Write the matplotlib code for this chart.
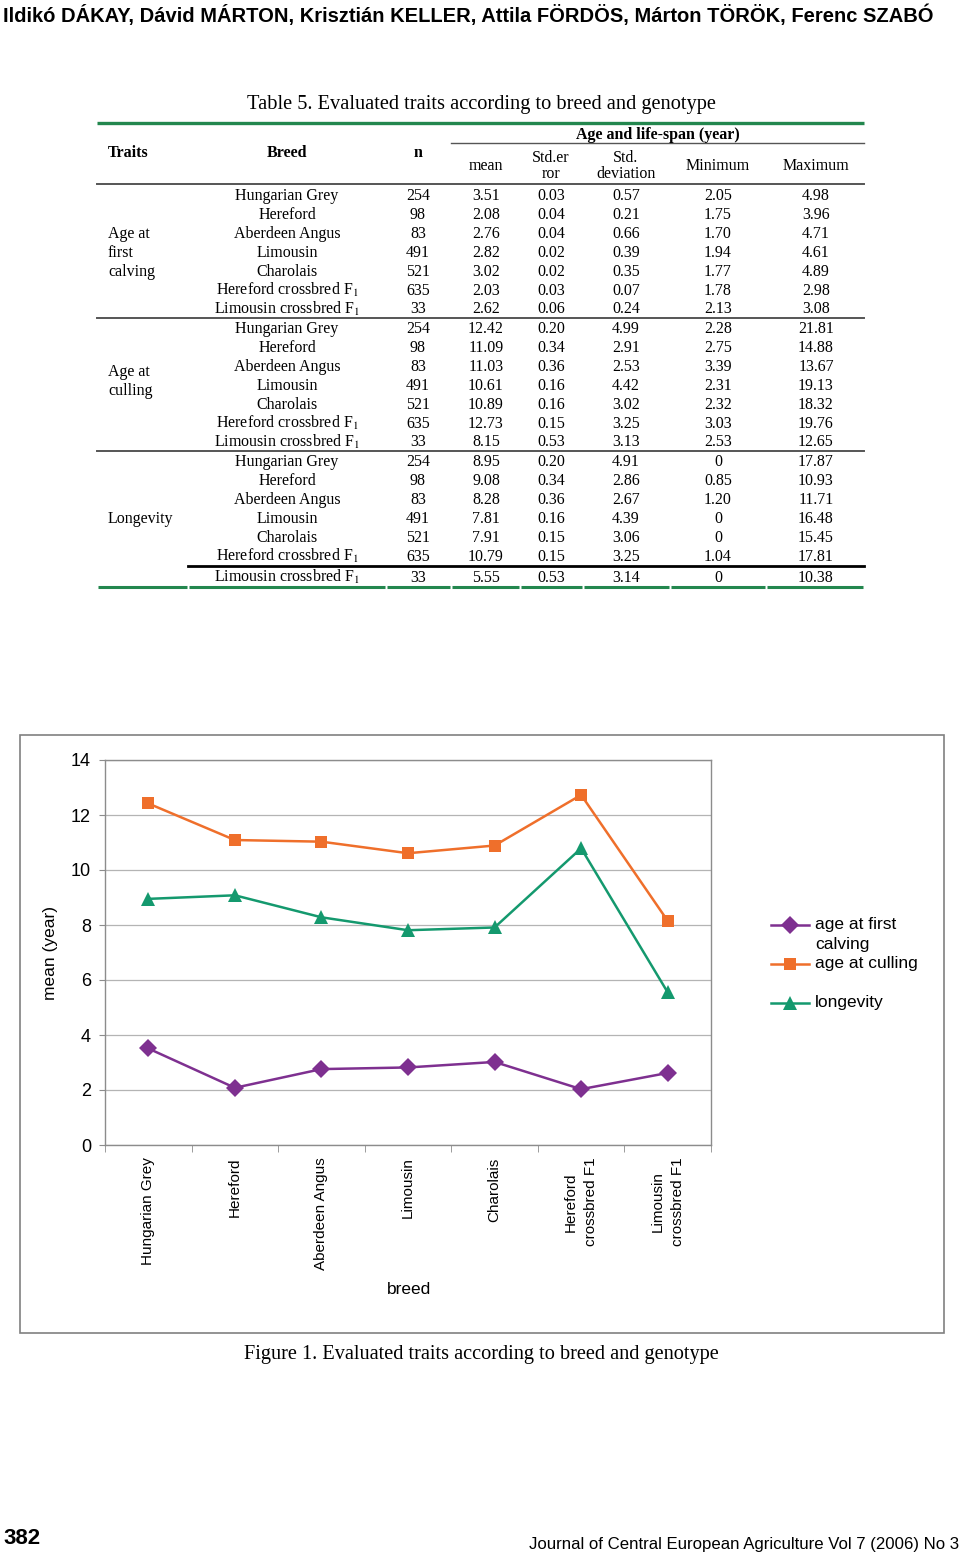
import numpy as np
import matplotlib
import matplotlib.pyplot as plt
from matplotlib.patches import Rectangle
from matplotlib import font_manager

matplotlib.rcParams['mathtext.fontset'] = 'stix'

# ---- data (Table 5) ----
breeds = ['Hungarian Grey', 'Hereford', 'Aberdeen Angus', 'Limousin', 'Charolais',
          'Hereford crossbred F$_1$', 'Limousin crossbred F$_1$']
breed_ticks = ['Hungarian Grey', 'Hereford', 'Aberdeen Angus', 'Limousin', 'Charolais',
               'Hereford\ncrossbred F1', 'Limousin\ncrossbred F1']
n_cows = [254, 98, 83, 491, 521, 635, 33]

calv_mean = [3.51, 2.08, 2.76, 2.82, 3.02, 2.03, 2.62]
calv_se = [0.03, 0.04, 0.04, 0.02, 0.02, 0.03, 0.06]
calv_sd = [0.57, 0.21, 0.66, 0.39, 0.35, 0.07, 0.24]
calv_min = [2.05, 1.75, 1.70, 1.94, 1.77, 1.78, 2.13]
calv_max = [4.98, 3.96, 4.71, 4.61, 4.89, 2.98, 3.08]

cull_mean = [12.42, 11.09, 11.03, 10.61, 10.89, 12.73, 8.15]
cull_se = [0.20, 0.34, 0.36, 0.16, 0.16, 0.15, 0.53]
cull_sd = [4.99, 2.91, 2.53, 4.42, 3.02, 3.25, 3.13]
cull_min = [2.28, 2.75, 3.39, 2.31, 2.32, 3.03, 2.53]
cull_max = [21.81, 14.88, 13.67, 19.13, 18.32, 19.76, 12.65]

long_mean = [8.95, 9.08, 8.28, 7.81, 7.91, 10.79, 5.55]
long_se = [0.20, 0.34, 0.36, 0.16, 0.15, 0.15, 0.53]
long_sd = [4.91, 2.86, 2.67, 4.39, 3.06, 3.25, 3.14]
long_min = [0, 0.85, 1.20, 0, 0, 1.04, 0]
long_max = [17.87, 10.93, 11.71, 16.48, 15.45, 17.81, 10.38]

series_labels = ['age at first\ncalving', 'age at culling', 'longevity']
series_colors = ['#7e3090', '#ef6f2b', '#14996e']
series_markers = ['D', 's', '^']
marker_sizes = [9, 8.5, 10]

W, H = 960, 1559
fig = plt.figure(figsize=(W / 100, H / 100), dpi=100)
bg = fig.add_axes([0, 0, 1, 1])
bg.set_xlim(0, W)
bg.set_ylim(H, 0)
bg.axis('off')

names = {f.name for f in font_manager.fontManager.ttflist}
narrow = 'Liberation Sans Narrow' if 'Liberation Sans Narrow' in names else 'Liberation Sans'
serif = 'Liberation Serif'
sans = 'Liberation Sans'


def fit_text(x, y, s, width, size, **kw):
    # shrink a line until it spans the given pixel width
    t = bg.text(x, y, s, fontsize=size, **kw)
    r = fig.canvas.get_renderer()
    w = t.get_window_extent(r).width
    t.set_fontsize(size * width / w)
    return t


# page header / footer
fit_text(3, 15, 'Ildikó DÁKAY, Dávid MÁRTON, Krisztián KELLER, Attila FÖRDÖS, Márton TÖRÖK, Ferenc SZABÓ',
         930, 16, family=narrow, weight='bold', ha='left', va='center')
bg.text(3, 1539, '382', family=narrow, weight='bold', fontsize=16, ha='left', va='center')
fit_text(959, 1545, 'Journal of Central European Agriculture Vol 7 (2006) No 3', 429, 13,
         family=narrow, ha='right', va='center')

# ---- table ----
green = '#23874e'
grey = '#555555'
tfs = 11.5
bg.text(481, 104, 'Table 5. Evaluated traits according to breed and genotype',
        family=serif, fontsize=14.7, ha='center', va='center')
bg.plot([97, 864], [123, 123], color=green, lw=2.4, solid_capstyle='butt')
bg.text(658, 135, 'Age and life-span (year)', family=serif, weight='bold', fontsize=tfs,
        ha='center', va='center')
bg.plot([451, 864], [143, 143], color=grey, lw=1.0)
bg.text(108, 153, 'Traits', family=serif, weight='bold', fontsize=tfs, ha='left', va='center')
bg.text(287, 153, 'Breed', family=serif, weight='bold', fontsize=tfs, ha='center', va='center')
bg.text(418, 153, 'n', family=serif, weight='bold', fontsize=tfs, ha='center', va='center')
col_x = [287, 418, 486, 551, 626, 718, 816]
bg.text(col_x[2], 166, 'mean', family=serif, fontsize=tfs, ha='center', va='center')
bg.text(col_x[3], 166, 'Std.er\nror', family=serif, fontsize=tfs, ha='center', va='center',
        linespacing=1.05)
bg.text(col_x[4], 166, 'Std.\ndeviation', family=serif, fontsize=tfs, ha='center', va='center',
        linespacing=1.05)
bg.text(col_x[5], 166, 'Minimum', family=serif, fontsize=tfs, ha='center', va='center')
bg.text(col_x[6], 166, 'Maximum', family=serif, fontsize=tfs, ha='center', va='center')
bg.plot([97, 864], [184, 184], color=grey, lw=1.4)


def fmt(v):
    return '0' if v == 0 else f'{v:.2f}'


blocks = [
    (['Age at', 'first', 'calving'], 195, calv_mean, calv_se, calv_sd, calv_min, calv_max),
    (['Age at', 'culling'], 328, cull_mean, cull_se, cull_sd, cull_min, cull_max),
    (['Longevity'], 461, long_mean, long_se, long_sd, long_min, long_max),
]
step = 18.9
for b, (trait, y0, mean, se, sd, mn, mx) in enumerate(blocks):
    ys = [y0 + i * step for i in range(7)]
    if b == 2:
        ys[6] = 577
    for i in range(7):
        row = [breeds[i], str(n_cows[i]), fmt(mean[i]), fmt(se[i]), fmt(sd[i]), fmt(mn[i]), fmt(mx[i])]
        for x, s in zip(col_x, row):
            bg.text(x, ys[i] + 5, s, family=serif, fontsize=tfs, ha='center', va='baseline')
    tmid = ys[3] if b != 1 else (ys[2] + ys[3]) / 2 + 5
    for j, t in enumerate(trait):
        ty = tmid + (j - (len(trait) - 1) / 2) * step
        bg.text(108, ty + 5, t, family=serif, fontsize=tfs, ha='left', va='baseline')
bg.plot([97, 864], [318, 318], color=grey, lw=1.4)
bg.plot([97, 864], [451, 451], color=grey, lw=1.4)
bg.plot([188, 864], [566, 566], color='black', lw=2.0)
bounds = [97, 188, 386, 451, 520, 583, 670, 766, 864]
for a, c in zip(bounds[:-1], bounds[1:]):
    bg.plot([a + 1, c - 1], [587, 587], color=green, lw=2.2, solid_capstyle='butt')

# ---- chart ----
bg.add_patch(Rectangle((20, 735), 924, 598, fill=False, edgecolor='#808080', lw=1.2))
ax = fig.add_axes([105 / W, (H - 1145) / H, 606 / W, 385 / H])
x = np.arange(len(breed_ticks))
for vals, lab, col, mk, ms in zip([calv_mean, cull_mean, long_mean], series_labels,
                                  series_colors, series_markers, marker_sizes):
    ax.plot(x, vals, color=col, lw=1.8, marker=mk, ms=ms, markeredgewidth=0, label=lab)
ax.set_xlim(-0.5, 6.5)
ax.set_ylim(0, 14)
ax.set_yticks(np.arange(0, 15, 2))
ax.yaxis.grid(True, color='#b4b4b4', lw=0.9)
ax.set_axisbelow(True)
for s in ax.spines.values():
    s.set_color('#8c8c8c')
    s.set_linewidth(1.0)
ax.tick_params(axis='y', labelsize=13, length=4, color='#8c8c8c', pad=6)
for t in ax.get_yticklabels():
    t.set_family(sans)
ax.set_xticks(x)
ax.set_xticklabels(breed_ticks, rotation=90, family=sans, fontsize=11, ha='center', va='top',
                   multialignment='center', linespacing=1.55)
ax.tick_params(axis='x', length=0, pad=9)
ax.set_xticks(np.arange(-0.5, 7, 1), minor=True)
ax.tick_params(axis='x', which='minor', length=5, color='#8c8c8c')
ax.set_ylabel('mean (year)', family=sans, fontsize=12.5)
ax.yaxis.set_label_coords(-(105 - 50) / 606, 0.5)
ax.yaxis.label.set_va('center')
ax.set_xlabel('breed', family=sans, fontsize=12.5)
ax.xaxis.set_label_coords(304 / 606, -(1290 - 1145) / 385)
ax.xaxis.label.set_va('center')

# legend
leg_y = [925, 964, 1003]
for lab, col, mk, ms, ly in zip(series_labels, series_colors, series_markers, marker_sizes, leg_y):
    bg.plot([771, 809], [ly, ly], color=col, lw=1.8)
    bg.plot([790], [ly], color=col, marker=mk, ms=ms, markeredgewidth=0)
    bg.text(815, ly - 8, lab, family=sans, fontsize=12.5, ha='left', va='top', linespacing=1.4)

bg.text(481, 1354, 'Figure 1. Evaluated traits according to breed and genotype',
        family=serif, fontsize=14.6, ha='center', va='center')

fig.savefig('out.png', dpi=100)
